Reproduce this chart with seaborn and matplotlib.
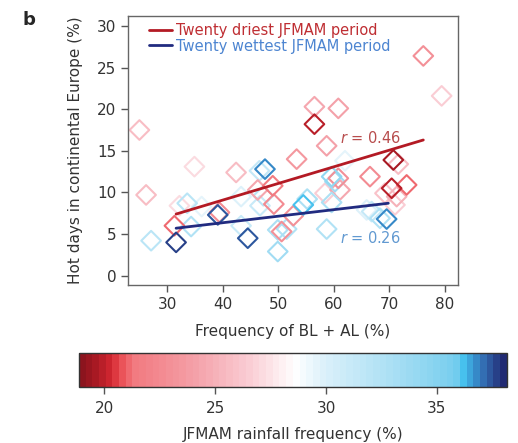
import numpy as np
import pandas as pd
import matplotlib
matplotlib.use("Agg")
import matplotlib.pyplot as plt
import matplotlib.colors as mcolors
from matplotlib.lines import Line2D
import seaborn as sns

# ---------------- data ----------------
freq_bl_al = [25.0, 34.9, 42.4, 46.6, 47.6, 53.3, 56.5, 56.5, 60.8, 58.7,
              76.1, 79.4, 70.7, 71.6, 26.2, 27.1, 31.6, 31.3, 32.2, 33.6,
              34.3, 36.2, 39.1, 39.4, 43.3, 43.3, 44.5, 46.3, 49.0, 47.3,
              49.2, 46.7, 49.9, 50.6, 51.5, 49.9, 52.7, 54.5, 58.7, 59.6,
              60.8, 60.2, 62.0, 66.5, 70.4, 73.1, 71.3, 69.2, 59.6, 61.1,
              58.4, 65.9, 66.8, 68.3, 69.5, 71.0, 55.2]
hot_days = [17.5, 13.1, 12.4, 12.6, 12.8, 14.0, 20.3, 18.2, 20.1, 15.6,
            26.4, 21.6, 13.9, 13.4, 9.7, 4.2, 4.0, 6.0, 8.4, 8.7,
            5.9, 8.3, 7.3, 7.6, 9.5, 6.0, 4.5, 10.3, 10.8, 9.6,
            8.6, 8.4, 5.5, 5.3, 5.6, 2.9, 7.2, 8.5, 5.6, 11.9,
            11.7, 11.3, 13.8, 11.9, 10.5, 10.9, 9.5, 9.9, 8.8, 10.3,
            9.9, 7.9, 7.7, 6.9, 6.8, 8.5, 9.2]
rain_freq = [25.5, 27.0, 25.5, 31.5, 36.8, 23.5, 24.5, 20.0, 24.0, 24.0,
             23.0, 26.5, 19.5, 25.5, 25.5, 32.0, 37.8, 21.0, 27.0, 32.0,
             32.5, 29.5, 37.5, 22.5, 30.0, 31.0, 37.3, 24.5, 21.5, 32.0,
             22.5, 31.0, 33.0, 23.0, 32.5, 33.5, 23.0, 36.3, 32.5, 34.5,
             23.0, 33.5, 29.5, 22.5, 20.0, 21.0, 25.0, 26.0, 33.0, 24.5,
             26.5, 30.0, 31.5, 32.5, 36.7, 26.5, 33.0]

# fitted lines
dry_fit_x = [31.6, 76.1]
dry_fit_y = [7.4, 16.3]
wet_fit_x = [31.6, 69.8]
wet_fit_y = [5.7, 8.7]

r_values = ["0.46", "0.26"]
legend_labels = ["Twenty driest JFMAM period", "Twenty wettest JFMAM period"]
x_ticks = [30, 40, 50, 60, 70, 80]
y_ticks = [0, 5, 10, 15, 20, 25, 30]
cbar_ticks = [20, 25, 30, 35]

# ---------------- colours ----------------
vmin, vmax = 18.85, 38.15
nodes = [
    (18.85, (140, 20, 30)),
    (19.5, (170, 25, 35)),
    (20.2, (212, 40, 50)),
    (20.6, (233, 78, 84)),
    (21.2, (242, 122, 128)),
    (24.0, (244, 160, 168)),
    (26.5, (250, 205, 212)),
    (28.6, (255, 255, 255)),
    (30.0, (218, 240, 250)),
    (34.0, (155, 218, 242)),
    (36.0, (118, 205, 238)),
    (36.3, (72, 196, 240)),
    (36.8, (55, 150, 210)),
    (37.3, (50, 105, 175)),
    (38.15, (33, 42, 115)),
]
cm_lin = mcolors.LinearSegmentedColormap.from_list(
    "rain", [((v - vmin) / (vmax - vmin), tuple(c / 255 for c in col)) for v, col in nodes])
cmap = mcolors.ListedColormap(cm_lin(np.linspace(0, 1, 64)))
norm = mcolors.Normalize(vmin=vmin, vmax=vmax)

df = pd.DataFrame({"x": freq_bl_al, "y": hot_days, "rain": rain_freq})
df["ext"] = (df["rain"] - 28.6).abs()
df = df.sort_values("ext")

# ---------------- figure ----------------
sns.set_style("ticks")
plt.rcParams["font.family"] = ["DejaVu Sans"]
fig = plt.figure(figsize=(5.18, 4.43), dpi=100)
ax = fig.add_axes([0.2477, 0.3567, 0.636, 0.608])

sns.scatterplot(data=df, x="x", y="y", hue="rain", palette=cmap, hue_norm=norm,
                marker="D", s=100, linewidth=1.5, legend=False, ax=ax)
coll = ax.collections[0]
cols = cmap(norm(df["rain"].values))
coll.set_edgecolors(cols)
coll.set_facecolors("none")
coll.set_linewidths(1.5)

dry_col = (0.70, 0.10, 0.14)
wet_col = (0.13, 0.17, 0.50)
sns.lineplot(x=dry_fit_x, y=dry_fit_y, color=dry_col, lw=2, ax=ax)
sns.lineplot(x=wet_fit_x, y=wet_fit_y, color=wet_col, lw=2, ax=ax)

ax.text(61.1, 16.5, "$r$ = " + r_values[0], color=(0.72, 0.30, 0.30), fontsize=10.5,
        va="center", ha="left")
ax.text(61.1, 4.5, "$r$ = " + r_values[1], color=(0.38, 0.60, 0.82), fontsize=10.5,
        va="center", ha="left")

ax.set_xlim(23.0, 82.3)
ax.set_ylim(-1.12, 31.24)
ax.set_xticks(x_ticks)
ax.set_yticks(y_ticks)
ax.set_xlabel("Frequency of BL + AL (%)", fontsize=11, color="#333333", labelpad=9)
ax.set_ylabel("Hot days in continental Europe (%)", fontsize=11, color="#333333", labelpad=10)
ax.tick_params(labelsize=11, colors="#555555", labelcolor="#333333", length=5, width=1)
for s in ax.spines.values():
    s.set_visible(True)
    s.set_color("#666666")
    s.set_linewidth(1.0)

handles = [Line2D([0], [0], color=dry_col, lw=2), Line2D([0], [0], color=wet_col, lw=2)]
leg = ax.legend(handles, legend_labels, loc="upper left", bbox_to_anchor=(0.045, 0.995),
                frameon=False, fontsize=10.5, handlelength=1.6, handletextpad=0.25,
                labelspacing=0.05, borderaxespad=0,
                labelcolor=[(0.75, 0.18, 0.20), (0.30, 0.52, 0.82)])

fig.text(0.055, 0.955, "b", fontsize=13, fontweight="bold", ha="center", va="center")

# colour bar
cax = fig.add_axes([0.1525, 0.1271, 0.8257, 0.0754])
sm = matplotlib.cm.ScalarMappable(norm=norm, cmap=cmap)
cb = fig.colorbar(sm, cax=cax, orientation="horizontal", ticks=cbar_ticks)
cb.outline.set_edgecolor("#333333")
cb.outline.set_linewidth(1.0)
cax.tick_params(labelsize=11, colors="#555555", labelcolor="#333333", length=5, width=1, pad=5)
cb.set_label("JFMAM rainfall frequency (%)", fontsize=11, color="#333333", labelpad=8)

fig.savefig("out.png", dpi=100)
